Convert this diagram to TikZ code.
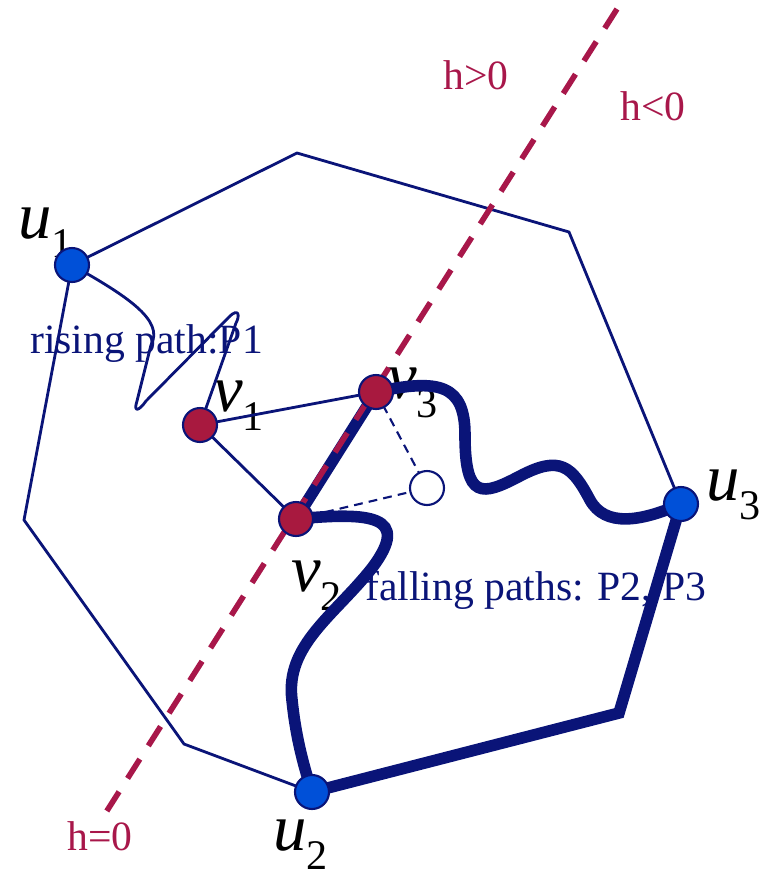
\documentclass[tikz,border=0pt]{standalone}
\usepackage{fontspec}
\setmainfont{Liberation Serif}
\usetikzlibrary{backgrounds}
\definecolor{pathnavy}{HTML}{0A1478}
\definecolor{dotblue}{HTML}{0050D8}
\definecolor{dotred}{HTML}{A8193F}
\definecolor{levelred}{HTML}{A8174A}

% italic point name with a lowered index
\newcommand{\ptlabel}[2]{{\fontsize{38}{38}\selectfont\itshape #1}%
  \raisebox{-11pt}{\fontsize{24}{24}\selectfont #2}}

\begin{document}
\begin{tikzpicture}[x=0.02cm,y=-0.02cm,
    endpoint/.style={circle, draw=pathnavy, line width=1.2pt, fill=dotblue,
      minimum size=0.68cm, inner sep=0pt},
    levelpoint/.style={endpoint, fill=dotred},
    footpoint/.style={endpoint, fill=white},
    thinedge/.style={pathnavy, line width=1.6pt},
    thickedge/.style={pathnavy, line width=6.6pt},
    guideedge/.style={pathnavy, line width=1.2pt, dash pattern=on 5pt off 3.5pt},
    levelline/.style={levelred, line width=3.2pt, dash pattern=on 13pt off 9pt},
    ptname/.style={anchor=base west, inner sep=0pt},
    pathtext/.style={pathnavy, font=\fontsize{23.7}{28}\selectfont, anchor=base west, inner sep=0pt},
    leveltext/.style={levelred, font=\fontsize{23.7}{28}\selectfont, anchor=base, inner sep=0pt}]
    \path[use as bounding box] (0,0) rectangle (769,877);

    % Boundary points and critical points.
    \node[endpoint] (u1) at (72,265) {};
    \node[endpoint] (u2) at (312,792) {};
    \node[endpoint] (u3) at (681,504) {};
    \node[levelpoint] (v1) at (200,425) {};
    \node[levelpoint] (v2) at (296,519) {};
    \node[levelpoint] (v3) at (376,392) {};
    \node[footpoint] (foot) at (427,488) {};

    % Remaining corners of the outer polygon and ends of the level line.
    \coordinate (ctop) at (297,153);
    \coordinate (cright) at (569,232);
    \coordinate (cbotright) at (619,713);
    \coordinate (cbotleft) at (184,744);
    \coordinate (cleft) at (24,520);
    \coordinate (levtop) at (617,9);
    \coordinate (levbot) at (103,817);

    \begin{scope}[on background layer]
      % Point names sit under the thick paths.
      \node[ptname] (u1name) at (18,238) {\ptlabel{u}{1}};
      \node[ptname] (u2name) at (273,850) {\ptlabel{u}{2}};
      \node[ptname] (u3name) at (706,500) {\ptlabel{u}{3}};
      \node[ptname] (v1name) at (213,411) {\ptlabel{v}{1}};
      \node[ptname] (v2name) at (291,591) {\ptlabel{v}{2}};
      \node[ptname] (v3name) at (387,398) {\ptlabel{v}{3}};

      \node[pathtext] (risingtext) at (30,353) {rising path:P1};
      \node[pathtext] (fallingtext) at (365,600) {falling paths: P2, P3};

      % Thin outline of the region.
      \draw[thinedge] (u3.center) -- (cright) -- (ctop) -- (u1.center)
        -- (cleft) -- (cbotleft) -- (u2.center);

      % Triangle between the critical points.
      \draw[thinedge] (v1.center) -- (v3.center);
      \draw[thinedge] (v1.center) -- (v2.center);
      \draw[guideedge] (v3.center) -- (foot.center);
      \draw[guideedge] (v2.center) -- (foot.center);

      % Rising path P1.
      \draw[thinedge, line join=round] (u1.center)
        .. controls (125,295) and (165,320) .. (151,345)
        -- (137,401) .. controls (133,413) and (139,411) .. (146,401)
        -- (229,317) .. controls (239,307) and (240,316) .. (236,323)
        -- (v1.center);

      % Falling paths P2 and P3.
      \draw[thickedge] (v2.center) -- (v3.center);
      \draw[thickedge] (v3.center)
        .. controls (440,378) and (465,385) .. (465,435)
        .. controls (465,500) and (482,496) .. (520,476)
        .. controls (560,455) and (572,466) .. (590,500)
        .. controls (605,527) and (640,522) .. (u3.center);
      \draw[thickedge] (v2.center)
        .. controls (370,512) and (412,515) .. (372,568)
        .. controls (335,615) and (285,645) .. (292,700)
        .. controls (296,740) and (305,770) .. (u2.center);
      \draw[thickedge] (u3.center) -- (cbotright) -- (u2.center);

      % Level line h=0.
      \draw[levelline] (levtop) -- (levbot);
      \node[leveltext] (hpos) at (476,89) {h>0};
      \node[leveltext] (hneg) at (653,120) {h<0};
      \node[leveltext] (hzero) at (100,850) {h=0};
    \end{scope}
  \end{tikzpicture}
\end{document}
